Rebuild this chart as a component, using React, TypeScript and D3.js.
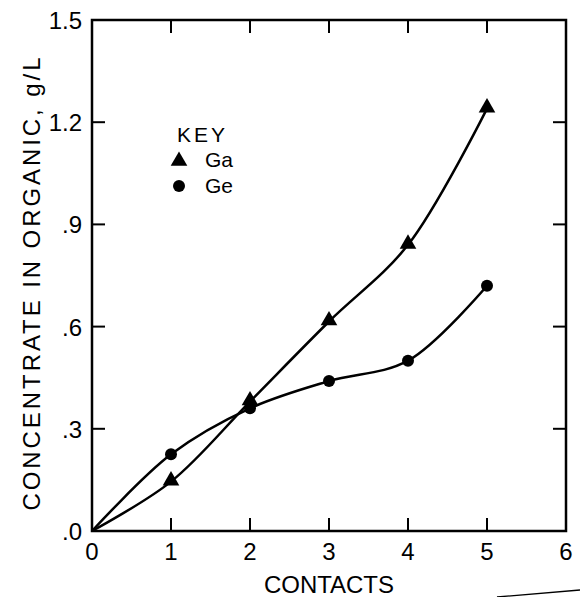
import React from "react";
import * as d3 from "d3";

const contacts = [0, 1, 2, 3, 4, 5];
const gaValues = [0, 0.145, 0.38, 0.615, 0.84, 1.24];
const geValues = [0, 0.225, 0.36, 0.44, 0.5, 0.72];
const xTicks = [0, 1, 2, 3, 4, 5, 6];
const yTicks = [0, 0.3, 0.6, 0.9, 1.2, 1.5];
const yTickLabels = [".0", ".3", ".6", ".9", "1.2", "1.5"];

const W = 580;
const H = 597;
const left = 92;
const right = 566;
const top = 20;
const bottom = 531;
const font = "'Liberation Sans', Arial, sans-serif";

export default function App() {
  const x = d3.scaleLinear().domain([0, 6]).range([left, right]);
  const y = d3.scaleLinear().domain([0, 1.5]).range([bottom, top]);
  const line = d3
    .line<number>()
    .x((_, i) => x(contacts[i]))
    .y((d) => y(d))
    .curve(d3.curveCatmullRom.alpha(0.5));
  const tri = d3.symbol().type(d3.symbolTriangle).size(120);
  const tl = 13;
  return (
    <svg
      width={W}
      height={H}
      style={{ position: "absolute", left: 0, top: 0, background: "#fff" }}
    >
      <rect x={0} y={0} width={W} height={H} fill="#fff" />
      <rect
        x={left}
        y={top}
        width={right - left}
        height={bottom - top}
        fill="none"
        stroke="#000"
        strokeWidth={2.5}
      />
      {xTicks.map((t) => (
        <g key={"x" + t}>
          <line x1={x(t)} x2={x(t)} y1={bottom} y2={bottom - tl} stroke="#000" strokeWidth={2} />
          <line x1={x(t)} x2={x(t)} y1={top} y2={top + tl} stroke="#000" strokeWidth={2} />
          <text
            x={x(t)}
            y={560}
            textAnchor="middle"
            fontFamily={font}
            fontSize={24}
            fill="#000"
          >
            {t}
          </text>
        </g>
      ))}
      {yTicks.map((t, i) => (
        <g key={"y" + t}>
          <line x1={left} x2={left + tl} y1={y(t)} y2={y(t)} stroke="#000" strokeWidth={2} />
          <line x1={right} x2={right - tl} y1={y(t)} y2={y(t)} stroke="#000" strokeWidth={2} />
          <text
            x={82}
            y={y(t) + 9}
            textAnchor="end"
            fontFamily={font}
            fontSize={24}
            fill="#000"
          >
            {yTickLabels[i]}
          </text>
        </g>
      ))}
      <text
        x={x(3)}
        y={593}
        textAnchor="middle"
        fontFamily={font}
        fontSize={24}
        textLength={130}
        lengthAdjust="spacing"
        fill="#000"
      >
        CONTACTS
      </text>
      <text
        transform={`translate(40,${284}) rotate(-90)`}
        textAnchor="middle"
        fontFamily={font}
        fontSize={24}
        textLength={453}
        lengthAdjust="spacing"
        fill="#000"
      >
        CONCENTRATE IN ORGANIC, g/L
      </text>
      <path d={line(gaValues) || ""} fill="none" stroke="#000" strokeWidth={2.5} />
      <path d={line(geValues) || ""} fill="none" stroke="#000" strokeWidth={2.5} />
      {gaValues.slice(1).map((v, i) => (
        <path
          key={"ga" + i}
          d={tri() || ""}
          transform={`translate(${x(contacts[i + 1])},${y(v) - 1})`}
          fill="#000"
        />
      ))}
      {geValues.slice(1).map((v, i) => (
        <circle key={"ge" + i} cx={x(contacts[i + 1])} cy={y(v)} r={6} fill="#000" />
      ))}
      <text
        x={177}
        y={142}
        fontFamily={font}
        fontSize={21}
        textLength={48}
        lengthAdjust="spacing"
        fill="#000"
      >
        KEY
      </text>
      <path d={tri() || ""} transform="translate(179,161)" fill="#000" />
      <text x={205} y={167} fontFamily={font} fontSize={21} fill="#000">
        Ga
      </text>
      <circle cx={179} cy={186} r={6} fill="#000" />
      <text x={205} y={193} fontFamily={font} fontSize={21} fill="#000">
        Ge
      </text>
      <line x1={497} y1={597} x2={580} y2={590} stroke="#000" strokeWidth={1.3} />
    </svg>
  );
}
